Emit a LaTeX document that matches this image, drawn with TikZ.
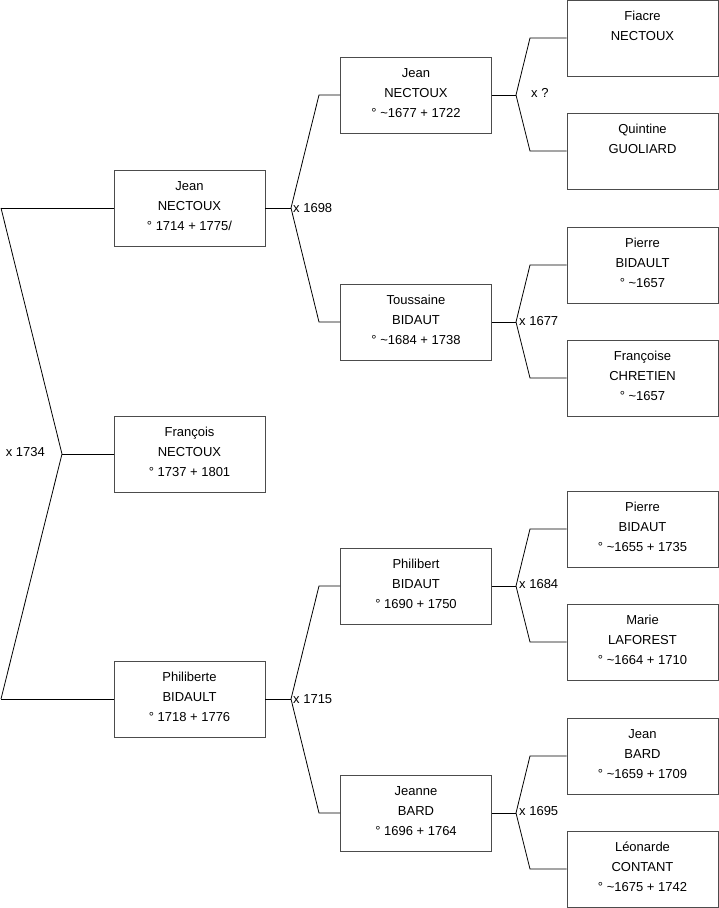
\documentclass[tikz,border=0pt]{standalone}
\usepackage{fontspec}
\setmainfont{Liberation Sans}
\begin{document}
\begin{tikzpicture}[x=1pt,y=-1pt,
  person/.style={draw=black!70, line width=0.9pt, fill=white, minimum width=151pt, minimum height=76pt,
    inner sep=0pt, label={[txt]north:{#1}}},
  txt/.style={anchor=north, yshift=-11.5pt, inner sep=0pt, align=center, font=\fontsize{13pt}{20pt}\selectfont},
  link/.style={draw=black, line width=0.8pt},
  lab/.style={font=\fontsize{13pt}{15pt}\selectfont, inner sep=0pt}]
\useasboundingbox[fill=white] (0,0) rectangle (719,908);
% generation 1
\node[person={Jean\\NECTOUX\\° 1714 + 1775/}] (jean1) at (189.5,208) {};
\node[person={François\\NECTOUX\\° 1737 + 1801}] (francois) at (189.5,454) {};
\node[person={Philiberte\\BIDAULT\\° 1718 + 1776}] (philiberte) at (189.5,699) {};
% generation 2
\node[person={Jean\\NECTOUX\\° \textasciitilde1677 + 1722}] (jean2) at (416,95) {};
\node[person={Toussaine\\BIDAUT\\° \textasciitilde1684 + 1738}] (toussaine) at (416,322) {};
\node[person={Philibert\\BIDAUT\\° 1690 + 1750}] (philibert) at (416,586) {};
\node[person={Jeanne\\BARD\\° 1696 + 1764}] (jeanne) at (416,813) {};
% generation 3
\node[person={Fiacre\\NECTOUX}] (fiacre) at (642.5,38) {};
\node[person={Quintine\\GUOLIARD}] (quintine) at (642.5,151) {};
\node[person={Pierre\\BIDAULT\\° \textasciitilde1657}] (pierre1) at (642.5,265) {};
\node[person={Françoise\\CHRETIEN\\° \textasciitilde1657}] (francoise) at (642.5,378) {};
\node[person={Pierre\\BIDAUT\\° \textasciitilde1655 + 1735}] (pierre2) at (642.5,529) {};
\node[person={Marie\\LAFOREST\\° \textasciitilde1664 + 1710}] (marie) at (642.5,642) {};
\node[person={Jean\\BARD\\° \textasciitilde1659 + 1709}] (jeanb) at (642.5,756) {};
\node[person={Léonarde\\CONTANT\\° \textasciitilde1675 + 1742}] (leonarde) at (642.5,869) {};
% root fork
\coordinate (r1) at (1,208);
\coordinate (r2) at (1,699);
\coordinate (f0) at (62,454);
\draw[link] (r1) -- (jean1.west);
\draw[link] (r1) -- (f0) -- (r2);
\draw[link] (f0) -- (francois.west);
\draw[link] (r2) -- (philiberte.west);
\node[lab, anchor=east] (l0) at (45,452) {x 1734};
% Jean1 fork
\coordinate (f1) at (291,208);
\draw[link] (jean1.east) -- (f1);
\draw[link] (f1) -- (319,95) -- (jean2.west);
\draw[link] (f1) -- (319,322) -- (toussaine.west);
\node[lab, anchor=west] (l1) at (293,208) {x 1698};
% Philiberte fork
\coordinate (f2) at (291,699);
\draw[link] (philiberte.east) -- (f2);
\draw[link] (f2) -- (319,586) -- (philibert.west);
\draw[link] (f2) -- (319,813) -- (jeanne.west);
\node[lab, anchor=west] (l2) at (293,699) {x 1715};
% Jean2 fork
\coordinate (f3) at (516,95);
\draw[link] (jean2.east) -- (f3);
\draw[link] (f3) -- (530,38) -- (fiacre.west);
\draw[link] (f3) -- (530,151) -- (quintine.west);
\node[lab, anchor=west] (l3) at (531,93) {x ?};
% Toussaine fork
\coordinate (f4) at (516,322);
\draw[link] (toussaine.east) -- (f4);
\draw[link] (f4) -- (530,265) -- (pierre1.west);
\draw[link] (f4) -- (530,378) -- (francoise.west);
\node[lab, anchor=west] (l4) at (519,321) {x 1677};
% Philibert fork
\coordinate (f5) at (516,586);
\draw[link] (philibert.east) -- (f5);
\draw[link] (f5) -- (530,529) -- (pierre2.west);
\draw[link] (f5) -- (530,642) -- (marie.west);
\node[lab, anchor=west] (l5) at (519,584) {x 1684};
% Jeanne fork
\coordinate (f6) at (516,813);
\draw[link] (jeanne.east) -- (f6);
\draw[link] (f6) -- (530,756) -- (jeanb.west);
\draw[link] (f6) -- (530,869) -- (leonarde.west);
\node[lab, anchor=west] (l6) at (519,811) {x 1695};
\end{tikzpicture}
\end{document}
